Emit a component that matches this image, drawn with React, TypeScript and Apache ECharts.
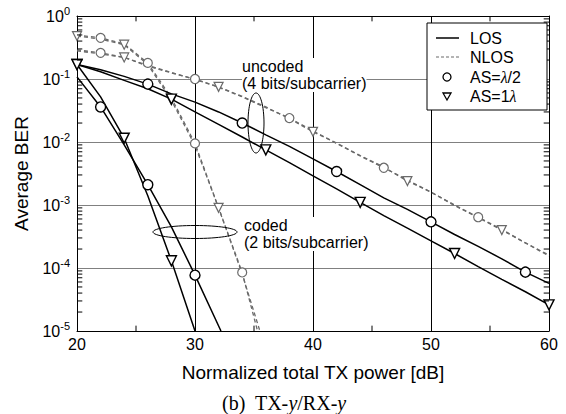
import React, { useEffect, useRef } from "react";
import * as echarts from "echarts";

const SANS = "Liberation Sans, Arial, sans-serif";
const SERIF = "Liberation Serif, Times New Roman, serif";

// x grid (dB)
const xFull = [20, 22, 24, 26, 28, 30, 32, 34, 36, 38, 40, 42, 44, 46, 48, 50, 52, 54, 56, 58, 60];

// LOS, uncoded (4 bits/subcarrier)
const losUncHalf = [0.17, 0.14, 0.11, 0.083, 0.058, 0.043, 0.03, 0.02, 0.013, 0.0085, 0.0054, 0.0034, 0.0021, 0.0013, 0.00085, 0.00054, 0.00034, 0.00022, 0.00014, 0.000086, 0.000057];
const losUncHalfMarks = [26, 34, 42, 50, 58];
const losUncOne = [0.17, 0.13, 0.095, 0.07, 0.048, 0.03, 0.019, 0.012, 0.0075, 0.0047, 0.0029, 0.0018, 0.0011, 0.00068, 0.00043, 0.00027, 0.00017, 0.000105, 0.000066, 0.000042, 0.000026];
const losUncOneMarks = [20, 28, 36, 44, 52, 60];

// NLOS, uncoded
const nlosUncHalf = [0.29, 0.26, 0.22, 0.16, 0.125, 0.1, 0.074, 0.052, 0.035, 0.024, 0.015, 0.0095, 0.006, 0.0039, 0.0025, 0.0016, 0.001, 0.00064, 0.00041, 0.00025, 0.000155];
const nlosUncHalfMarks = [22, 30, 38, 46, 54];
const nlosUncOne = [0.28, 0.25, 0.22, 0.165, 0.127, 0.098, 0.075, 0.053, 0.036, 0.0235, 0.0145, 0.0096, 0.0061, 0.004, 0.0024, 0.0016, 0.00098, 0.00063, 0.0004, 0.00025, 0.00016];
const nlosUncOneMarks = [24, 32, 40, 48, 56];

// LOS, coded (2 bits/subcarrier)
const losCodHalfX = [20, 22, 24, 26, 28, 30, 32.2];
const losCodHalf = [0.108, 0.036, 0.009, 0.0021, 0.00045, 0.000077, 0.00001];
const losCodHalfMarks = [22, 26, 30];
const losCodOneX = [20, 22, 24, 26, 28, 30];
const losCodOne = [0.17, 0.052, 0.0115, 0.0014, 0.00013, 0.00001];
const losCodOneMarks = [20, 24, 28];

// NLOS, coded
const nlosCodHalfX = [20, 22, 24, 26, 28, 30, 32, 34, 35.3];
const nlosCodHalf = [0.5, 0.45, 0.36, 0.18, 0.05, 0.0095, 0.0009, 0.000085, 0.00001];
const nlosCodHalfMarks = [22, 26, 30, 34];
const nlosCodOneX = [20, 22, 24, 26, 28, 30, 32, 34, 35.5];
const nlosCodOne = [0.48, 0.43, 0.35, 0.17, 0.046, 0.0088, 0.0009, 0.00008, 0.00001];
const nlosCodOneMarks = [20, 24, 28, 32];

const xTicks = [20, 30, 40, 50, 60];
const xMinorTicks = [25, 35, 45, 55];
const xMin = 20;
const xMax = 60;
const yMin = 1e-5;
const yMax = 1;
const minorDecades = [-5, -4, -3, -2, -1];
const minorMult = [2, 3, 4, 5, 6, 7, 8, 9];

const BLACK = "#000";
const GRAY = "#6a6a6a";

// tick length in axis units (~5 px)
const TICK_DB = 0.45;
const TICK_DEC = 0.085;

function mkData(xs: number[], ys: number[], marks: number[]) {
  return xs.map((x, i) => ({
    value: [x, ys[i]],
    symbol: marks.includes(x) ? undefined : "none",
  }));
}

function mkSeries(name: string, xs: number[], ys: number[], marks: number[], los: boolean, circle: boolean) {
  const col = los ? BLACK : GRAY;
  return {
    name,
    type: "line",
    data: mkData(xs, ys, marks),
    showSymbol: true,
    symbol: circle ? "circle" : "triangle",
    symbolRotate: circle ? 0 : 180,
    symbolSize: los ? 10 : 9,
    lineStyle: { color: col, width: los ? 1.5 : 1.3, type: los ? "solid" : [4, 3] },
    itemStyle: { color: "#fff", borderColor: col, borderWidth: los ? 1.4 : 1.2 },
    z: los ? 4 : 3,
    silent: true,
  };
}

function tickLine(p1: number[], p2: number[]) {
  return {
    type: "line",
    data: [p1, p2],
    symbol: "none",
    showSymbol: false,
    lineStyle: { color: BLACK, width: 1 },
    silent: true,
    z: 6,
  };
}

export default function App() {
  const ref = useRef<HTMLDivElement>(null);
  useEffect(() => {
    document.body.style.margin = "0";
    const chart = echarts.init(ref.current!, null, { renderer: "svg" });
    const yMinorVals: number[] = [];
    minorDecades.forEach((e) => minorMult.forEach((k) => yMinorVals.push(k * Math.pow(10, e))));
    const tickSeries: any[] = [];
    yMinorVals.forEach((v) => {
      tickSeries.push(tickLine([xMin, v], [xMin + TICK_DB, v]));
      tickSeries.push(tickLine([xMax - TICK_DB, v], [xMax, v]));
    });
    const f = Math.pow(10, TICK_DEC);
    xMinorTicks.forEach((x) => {
      tickSeries.push(tickLine([x, yMin], [x, yMin * f]));
      tickSeries.push(tickLine([x, yMax / f], [x, yMax]));
    });

    const yLabelFmt = (v: number) => {
      const e = Math.round(Math.log10(v));
      return `{b|10}{s|${e}}`;
    };

    const option: any = {
      animation: false,
      backgroundColor: "#fff",
      textStyle: { fontFamily: SANS },
      grid: { left: 77, right: 17, top: 16, bottom: 83, containLabel: false },
      xAxis: [
        {
          type: "value",
          min: xMin,
          max: xMax,
          interval: 10,
          position: "bottom",
          name: "Normalized total TX power [dB]",
          nameLocation: "middle",
          nameGap: 32,
          nameTextStyle: { fontSize: 19, color: BLACK, fontFamily: SANS },
          axisLine: { show: true, lineStyle: { color: BLACK, width: 1 } },
          axisTick: { show: false },
          axisLabel: {
            fontSize: 16,
            color: BLACK,
            fontFamily: SANS,
            margin: 5,
            formatter: (v: number) => (xTicks.includes(v) ? String(v) : ""),
          },
          splitLine: { show: true, lineStyle: { color: BLACK, width: 1 } },
        },
        {
          type: "value",
          min: xMin,
          max: xMax,
          interval: 10,
          position: "top",
          axisLine: { show: true, lineStyle: { color: BLACK, width: 1 } },
          axisTick: { show: false },
          axisLabel: { show: false },
          splitLine: { show: false },
        },
      ],
      yAxis: [
        {
          type: "log",
          logBase: 10,
          min: yMin,
          max: yMax,
          position: "left",
          name: "Average BER",
          nameLocation: "middle",
          nameGap: 46,
          nameTextStyle: { fontSize: 19, color: BLACK, fontFamily: SANS },
          axisLine: { show: true, lineStyle: { color: BLACK, width: 1 } },
          axisTick: { show: false },
          axisLabel: {
            color: BLACK,
            margin: 7,
            formatter: yLabelFmt,
            rich: {
              b: { fontSize: 16, color: BLACK, fontFamily: SANS },
              s: { fontSize: 11, color: BLACK, fontFamily: SANS, padding: [0, 0, 10, 0] },
            },
          },
          splitLine: { show: true, lineStyle: { color: "#808080", width: 1.2 } },
        },
        {
          type: "log",
          logBase: 10,
          min: yMin,
          max: yMax,
          position: "right",
          axisLine: { show: true, lineStyle: { color: BLACK, width: 1 } },
          axisTick: { show: false },
          axisLabel: { show: false },
          splitLine: { show: false },
        },
      ],
      graphic: [
        // annotation ellipses and texts
        { type: "ellipse", shape: { cx: 256, cy: 123, rx: 8, ry: 30 }, style: { fill: "none", stroke: BLACK, lineWidth: 1 }, z: 10 },
        { type: "ellipse", shape: { cx: 195, cy: 232, rx: 42, ry: 6.5 }, style: { fill: "none", stroke: BLACK, lineWidth: 1 }, z: 10 },
        {
          type: "text", x: 242, y: 58, z: 10,
          style: { text: "uncoded\n(4 bits/subcarrier)", font: `16px ${SANS}`, fill: BLACK, lineHeight: 17, backgroundColor: "#fff" },
        },
        {
          type: "text", x: 244, y: 217, z: 10,
          style: { text: "coded\n(2 bits/subcarrier)", font: `16px ${SANS}`, fill: BLACK, lineHeight: 17, backgroundColor: "#fff" },
        },
        // legend
        { type: "rect", shape: { x: 427, y: 23, width: 120, height: 87 }, style: { fill: "#fff", stroke: BLACK, lineWidth: 1 }, z: 20 },
        { type: "line", shape: { x1: 436, y1: 38, x2: 459, y2: 38 }, style: { stroke: BLACK, lineWidth: 1.5 }, z: 21 },
        { type: "text", x: 470, y: 38, z: 21, style: { text: "LOS", font: `16px ${SANS}`, fill: BLACK, verticalAlign: "middle" } },
        { type: "line", shape: { x1: 436, y1: 57, x2: 459, y2: 57 }, style: { stroke: GRAY, lineWidth: 1.2, lineDash: [3, 2] }, z: 21 },
        { type: "text", x: 470, y: 57, z: 21, style: { text: "NLOS", font: `16px ${SANS}`, fill: BLACK, verticalAlign: "middle" } },
        { type: "circle", shape: { cx: 447, cy: 77, r: 4 }, style: { fill: "#fff", stroke: BLACK, lineWidth: 1.3 }, z: 21 },
        {
          type: "text", x: 470, y: 77, z: 21,
          style: {
            text: "AS={i|λ}/2", font: `16px ${SANS}`, fill: BLACK, verticalAlign: "middle",
            rich: { i: { fontStyle: "italic", fontSize: 16, fontFamily: SERIF } },
          },
        },
        { type: "polygon", shape: { points: [[443, 93], [451, 93], [447, 100]] }, style: { fill: "#fff", stroke: BLACK, lineWidth: 1.3 }, z: 21 },
        {
          type: "text", x: 470, y: 96, z: 21,
          style: {
            text: "AS=1{i|λ}", font: `16px ${SANS}`, fill: BLACK, verticalAlign: "middle",
            rich: { i: { fontStyle: "italic", fontSize: 16, fontFamily: SERIF } },
          },
        },
        // caption
        {
          type: "text", x: 284, y: 403, z: 21,
          style: {
            text: "(b)  TX-{i|y}/RX-{i|y}", font: `20px ${SERIF}`, fill: BLACK, align: "center", verticalAlign: "middle",
            rich: { i: { fontStyle: "italic", fontSize: 20, fontFamily: SERIF } },
          },
        },
      ],
      series: [
        mkSeries("NLOS uncoded λ/2", xFull, nlosUncHalf, nlosUncHalfMarks, false, true),
        mkSeries("NLOS uncoded 1λ", xFull, nlosUncOne, nlosUncOneMarks, false, false),
        mkSeries("NLOS coded λ/2", nlosCodHalfX, nlosCodHalf, nlosCodHalfMarks, false, true),
        mkSeries("NLOS coded 1λ", nlosCodOneX, nlosCodOne, nlosCodOneMarks, false, false),
        mkSeries("LOS uncoded λ/2", xFull, losUncHalf, losUncHalfMarks, true, true),
        mkSeries("LOS uncoded 1λ", xFull, losUncOne, losUncOneMarks, true, false),
        mkSeries("LOS coded λ/2", losCodHalfX, losCodHalf, losCodHalfMarks, true, true),
        mkSeries("LOS coded 1λ", losCodOneX, losCodOne, losCodOneMarks, true, false),
        ...tickSeries,
      ],
    };
    chart.setOption(option);
    return () => chart.dispose();
  }, []);
  return <div ref={ref} style={{ width: 566, height: 414 }} />;
}
